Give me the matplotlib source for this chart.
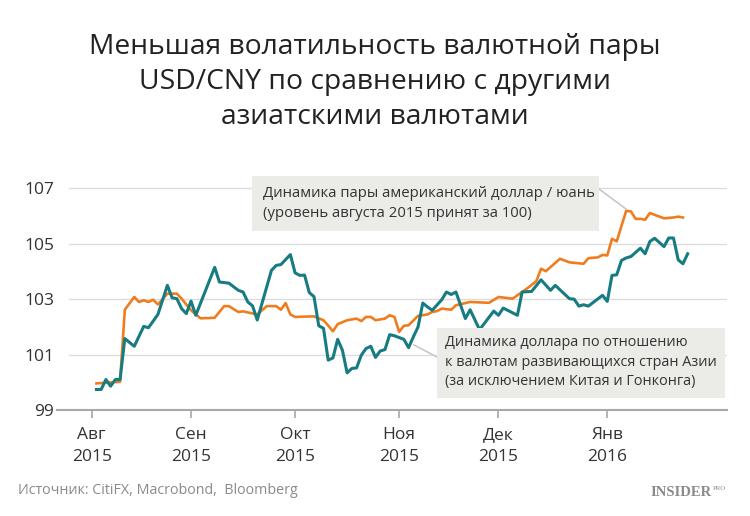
import numpy as np
import matplotlib
matplotlib.use("Agg")
import matplotlib.pyplot as plt
from matplotlib.patches import Rectangle

plt.rcParams['font.family'] = ['Open Sans', 'DejaVu Sans']

# ---- data (x = trading days since 3 Aug 2015) ----
cny_day = [1, 6, 7, 9, 10, 11, 12, 13, 14, 16, 18, 19, 21, 23, 26, 28, 29, 31, 32,
           35, 36, 37, 39, 40, 41, 42, 43, 47, 49, 50, 51, 52, 54, 56, 57, 58, 59,
           60, 62, 63, 64, 65, 66, 67, 69, 71, 72, 73, 74, 76, 77, 80, 84, 86, 89,
           92, 94, 95, 96, 99, 101, 104, 105, 107, 108, 109, 110, 111, 113, 114,
           115, 116, 117, 118, 121, 123, 124, 125]
cny_val = [99.96, 100.02, 102.62, 103.08, 102.9, 102.96, 102.9, 102.98, 102.81,
           103.2, 103.2, 103.02, 102.6, 102.31, 102.33, 102.75, 102.75, 102.54,
           102.56, 102.45, 102.6, 102.75, 102.75, 102.62, 102.86, 102.45, 102.36,
           102.38, 102.24, 102.05, 101.84, 102.1, 102.24, 102.3, 102.21, 102.36,
           102.36, 102.24, 102.3, 102.42, 102.36, 101.82, 102.04, 102.06, 102.4,
           102.45, 102.54, 102.57, 102.66, 102.62, 102.78, 102.9, 102.87, 103.08,
           103.02, 103.38, 103.65, 104.1, 104.01, 104.46, 104.33, 104.28, 104.48,
           104.51, 104.6, 104.58, 105.18, 105.09, 106.19, 106.17, 105.9, 105.9,
           105.87, 106.11, 105.92, 105.95, 105.98, 105.95]

asia_day = [1, 2, 3, 4, 5, 6, 7, 9, 11, 12, 14, 16, 17, 18, 19, 20, 21, 22, 26,
            27, 29, 31, 32, 33, 34, 35, 38, 39, 40, 42, 43, 44, 45, 46, 47, 48, 49,
            50, 51, 52, 53, 54, 55, 56, 57, 58, 59, 60, 61, 62, 63, 64, 66, 67, 68,
            69, 70, 71, 72, 74, 75, 76, 77, 79, 80, 82, 85, 86, 87, 90, 91, 93, 95,
            97, 98, 101, 102, 103, 104, 105, 108, 109, 110, 111, 112, 113, 114, 116,
            117, 118, 119, 121, 122, 123, 124, 125, 126]
asia_val = [99.74, 99.74, 100.1, 99.86, 100.1, 100.1, 101.58, 101.3, 102.02, 101.97,
            102.45, 103.5, 103.05, 103.02, 102.66, 102.48, 102.93, 102.42, 104.15,
            103.62, 103.58, 103.32, 103.26, 102.9, 102.76, 102.25, 104.04, 104.22,
            104.25, 104.61, 103.95, 103.86, 103.87, 103.24, 103.09, 102.04, 101.95,
            100.8, 100.88, 101.55, 101.16, 100.34, 100.5, 100.52, 100.98, 101.22,
            101.3, 100.9, 101.13, 101.18, 101.72, 101.68, 101.55, 101.25, 101.64,
            102.0, 102.86, 102.72, 102.6, 102.98, 103.26, 103.17, 103.26, 102.3,
            102.62, 101.9, 102.57, 102.42, 102.68, 102.42, 103.26, 103.28, 103.7,
            103.32, 103.5, 103.02, 103.0, 102.75, 102.8, 102.75, 103.14, 102.92,
            103.86, 103.88, 104.4, 104.49, 104.54, 104.84, 104.64, 105.08, 105.2,
            104.9, 105.21, 105.21, 104.42, 104.28, 104.64]

month_starts = ['2015-08-03', '2015-09-01', '2015-10-01', '2015-11-02', '2015-12-01', '2016-01-01']
month_labels = ['Авг\n2015', 'Сен\n2015', 'Окт\n2015', 'Ноя\n2015', 'Дек\n2015', 'Янв\n2016']
y_ticks = [99, 101, 103, 105, 107]

title = "Меньшая волатильность валютной пары\nUSD/CNY по сравнению с другими\nазиатскими валютами"
note_cny = "Динамика пары американский доллар / юань\n(уровень августа 2015 принят за 100)"
note_asia = "Динамика доллара по отношению\nк валютам развивающихся стран Азии\n(за исключением Китая и Гонконга)"
source = "Источник: CitiFX, Macrobond,  Bloomberg"

ORANGE = '#ef7d1f'
TEAL = '#177c82'
TEXT = '#333333'

W, H = 750, 516
fig = plt.figure(figsize=(W / 100, H / 100), dpi=100)
fig.patch.set_facecolor('white')

ax_l, ax_r, ax_b, ax_t = 57, 727, 410, 170
ax = fig.add_axes([ax_l / W, (H - ax_b) / H, (ax_r - ax_l) / W, (ax_b - ax_t) / H])

px_per_day = 4.73
x0_px = 91.7
xlim = ((ax_l - x0_px) / px_per_day, (ax_r - x0_px) / px_per_day)
ax.set_xlim(*xlim)
ax.set_ylim(99, 99 + (ax_b - ax_t) / 27.7)

for s in ['top', 'right', 'left']:
    ax.spines[s].set_visible(False)
ax.spines['bottom'].set_color('#a8a8a8')
ax.spines['bottom'].set_linewidth(1.5)

grid_start = (69 - ax_l) / (ax_r - ax_l)
for yv in y_ticks[1:]:
    ax.axhline(yv, xmin=grid_start, xmax=1, color='#dcdcdc', lw=1.0, zorder=0)

tick_pos = [int(np.busday_count('2015-08-03', d)) for d in month_starts]
ax.set_xticks(tick_pos)
ax.set_xticklabels(month_labels, fontsize=12.5, color=TEXT, linespacing=1.55)
ax.tick_params(axis='x', length=6, width=1.2, color='#a8a8a8', pad=6)

ax.set_yticks(y_ticks)
ax.set_yticklabels([str(v) for v in y_ticks], fontsize=12.5, color=TEXT)
ax.tick_params(axis='y', length=0, pad=2)

ax.plot(cny_day, cny_val, color=ORANGE, lw=1.9, solid_joinstyle='round', zorder=3)
ax.plot(asia_day, asia_val, color=TEAL, lw=2.2, solid_joinstyle='round', zorder=4)

# annotation boxes (figure pixel layout)
def fx(px):
    return px / W

def fy(py):
    return (H - py) / H

box_col = '#ebebe7'
fig.patches.append(Rectangle((fx(252), fy(231)), fx(599) - fx(252), fy(176) - fy(231),
                             transform=fig.transFigure, facecolor=box_col, edgecolor='none', zorder=5))
fig.text(fx(263), fy(203.5), note_cny, fontsize=10.7, color=TEXT, va='center', ha='left',
         linespacing=1.4, zorder=6)
fig.lines.append(plt.Line2D([fx(599), fx(626)], [fy(189), fy(209)], transform=fig.transFigure,
                            color='#c8c8c4', lw=1.2, zorder=5))

fig.patches.append(Rectangle((fx(437), fy(398)), fx(725) - fx(437), fy(328) - fy(398),
                             transform=fig.transFigure, facecolor=box_col, edgecolor='none', zorder=5))
fig.text(fx(445), fy(362), note_asia, fontsize=10.4, color=TEXT, va='center', ha='left',
         linespacing=1.45, zorder=6)
fig.lines.append(plt.Line2D([fx(437), fx(414)], [fy(357), fy(345)], transform=fig.transFigure,
                            color='#c8c8c4', lw=1.2, zorder=5))

fig.text(0.5, fy(82), title, fontsize=20.3, color='#222222', ha='center', va='center',
         linespacing=1.32)

fig.text(fx(18), fy(491), source, fontsize=10.3, color='#8a8a8a', ha='left', va='center')
fig.text(fx(712), fy(492), "INSIDER", fontsize=10.5, color='#8a8a8a', ha='right', va='center',
         family='Liberation Serif', weight='bold')
fig.text(fx(713), fy(489), "PRO", fontsize=5, color='#8a8a8a', ha='left', va='center',
         family='Liberation Serif')

fig.savefig('out.png', dpi=100, facecolor='white')
